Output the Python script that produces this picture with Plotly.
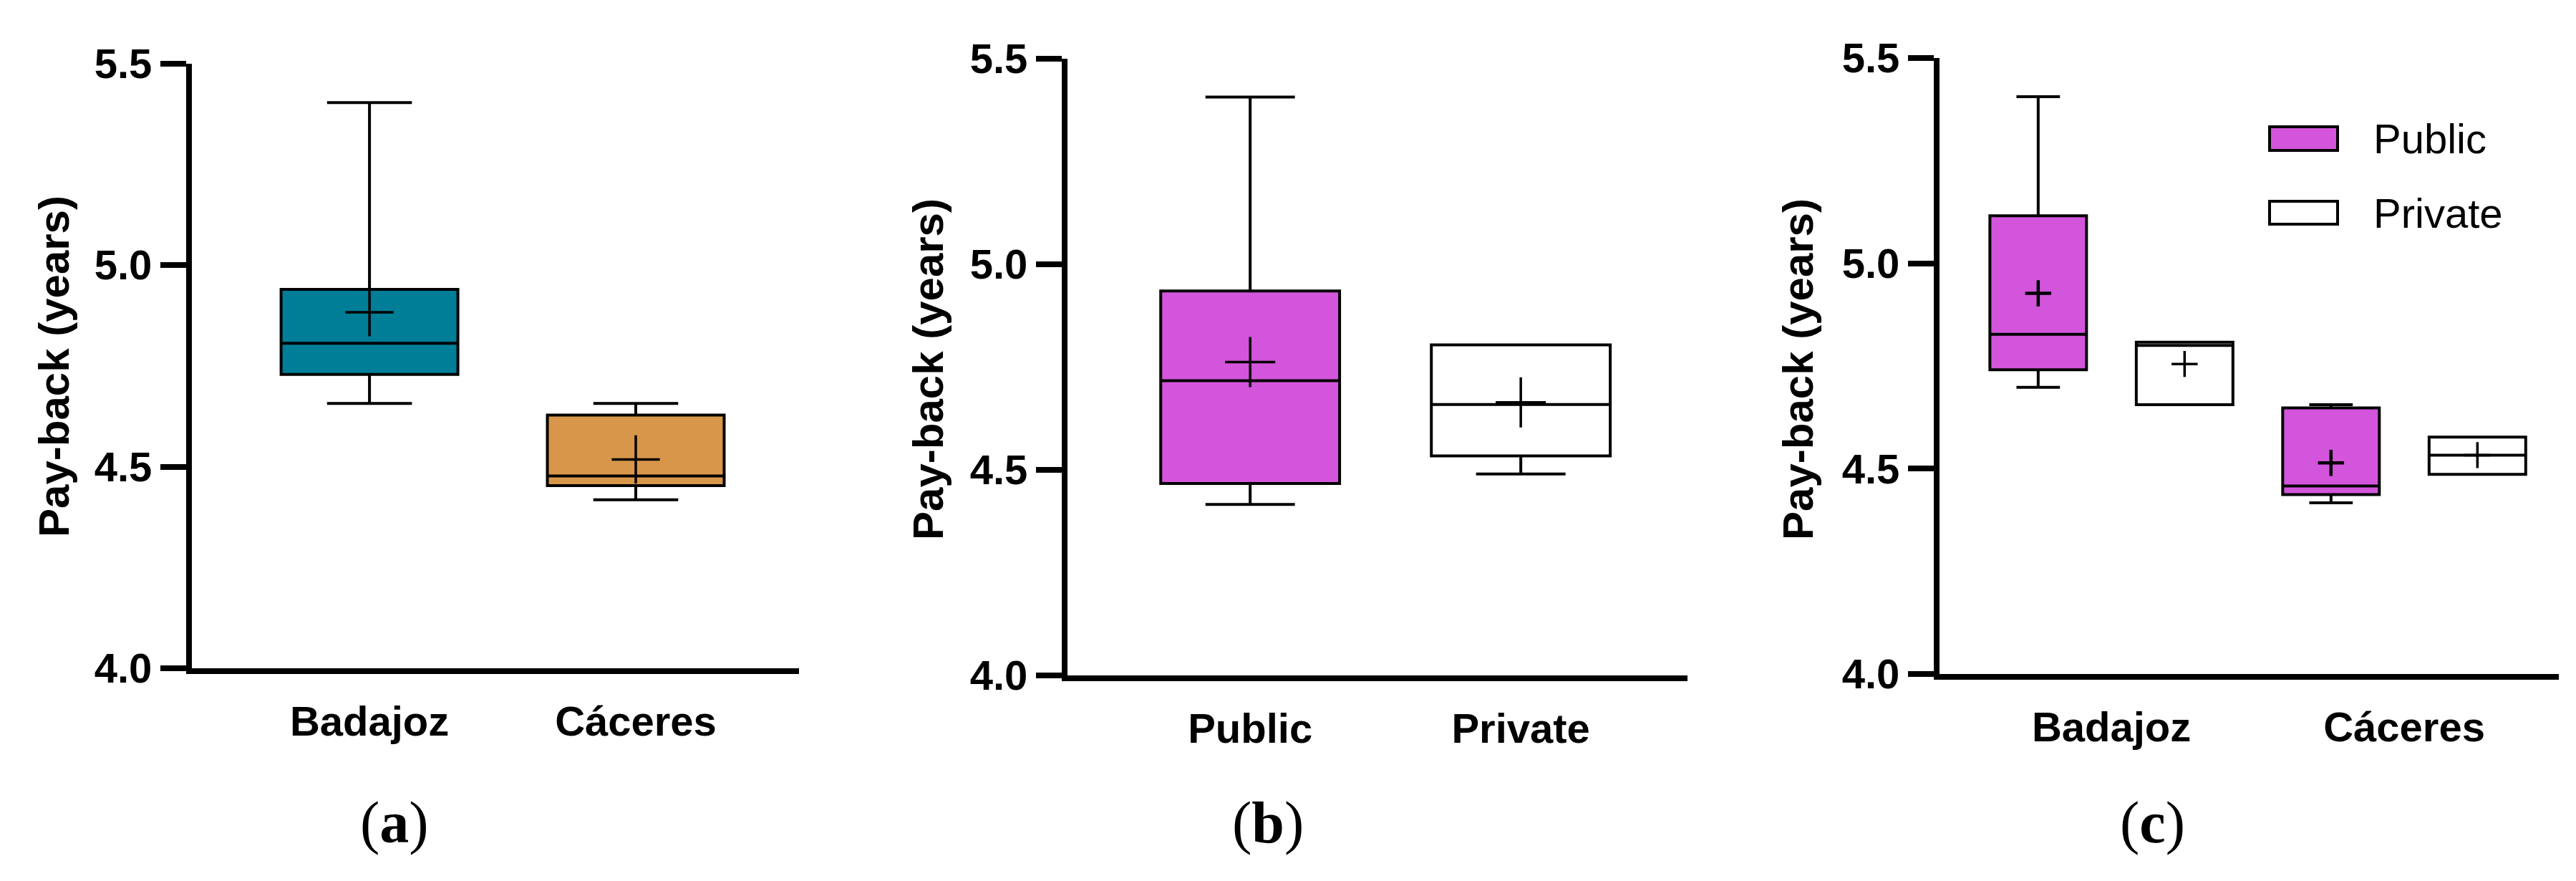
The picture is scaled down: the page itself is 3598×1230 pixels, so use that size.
import plotly.graph_objects as go

W, H = 3598, 1230

# (a) pay-back by province
prov_names = ["Badajoz", "Cáceres"]
prov_low = [4.657, 4.418]
prov_q1 = [4.729, 4.453]
prov_med = [4.806, 4.477]
prov_q3 = [4.940, 4.628]
prov_high = [5.403, 4.657]
prov_mean = [4.883, 4.518]
prov_colors = ["#007E98", "#D8964A"]

# (b) pay-back by ownership
own_names = ["Public", "Private"]
own_low = [4.416, 4.490]
own_q1 = [4.467, 4.534]
own_med = [4.717, 4.659]
own_q3 = [4.935, 4.804]
own_high = [5.407, 4.804]
own_mean = [4.762, 4.664]
own_colors = ["#D355DB", "#FFFFFF"]

# (c) province x ownership
pub_low = [4.698, 4.417]
pub_q1 = [4.741, 4.437]
pub_med = [4.827, 4.458]
pub_q3 = [5.116, 4.648]
pub_high = [5.406, 4.656]
pub_mean = [4.927, 4.514]

priv_low = [4.656, 4.486]
priv_q1 = [4.656, 4.486]
priv_med = [4.800, 4.533]
priv_q3 = [4.808, 4.577]
priv_high = [4.808, 4.577]
priv_mean = [4.755, 4.533]

y_ticks = [4.0, 4.5, 5.0, 5.5]

fig = go.Figure()


def add_box(xref, yref, pos, lo, q1, med, q3, hi, color, width, whisk):
    fig.add_trace(go.Box(
        x=[pos], lowerfence=[lo], q1=[q1], median=[med], q3=[q3], upperfence=[hi],
        width=width, whiskerwidth=whisk, fillcolor=color,
        line=dict(color="black", width=4), boxpoints=False,
        xaxis=xref, yaxis=yref, showlegend=False,
    ))


def add_means(xref, yref, xs, ys, size, lw):
    fig.add_trace(go.Scatter(
        x=xs, y=ys, mode="markers", xaxis=xref, yaxis=yref, showlegend=False,
        marker=dict(symbol="cross-thin", size=size, line=dict(color="black", width=lw)),
    ))


# panel (a)
for i in range(len(prov_names)):
    add_box("x", "y", i, prov_low[i], prov_q1[i], prov_med[i], prov_q3[i], prov_high[i],
            prov_colors[i], 0.664, 0.48)
add_means("x", "y", list(range(len(prov_names))), prov_mean, 48, 3.5)

# panel (b)
for i in range(len(own_names)):
    add_box("x2", "y2", i, own_low[i], own_q1[i], own_med[i], own_q3[i], own_high[i],
            own_colors[i], 0.661, 0.5)
add_means("x2", "y2", list(range(len(own_names))), own_mean, 50, 3.5)

# panel (c): public on the left of each province, private on the right
shift = 0.25
for i in range(len(prov_names)):
    add_box("x3", "y3", i - shift, pub_low[i], pub_q1[i], pub_med[i], pub_q3[i], pub_high[i],
            own_colors[0], 0.33, 0.45)
    add_box("x3", "y3", i + shift, priv_low[i], priv_q1[i], priv_med[i], priv_q3[i], priv_high[i],
            own_colors[1], 0.33, 0.45)
add_means("x3", "y3", [i - shift for i in range(2)], pub_mean, 26, 4.5)
add_means("x3", "y3", [i + shift for i in range(2)], priv_mean, 26, 3.5)

xcommon = dict(showline=True, linewidth=8, linecolor="black", ticks="", showgrid=False,
               zeroline=False, automargin=False, ticklabelstandoff=16,
               tickfont=dict(family="Liberation Sans", size=58, color="black", weight="bold"))
ycommon = dict(showline=True, linewidth=8, linecolor="black", ticks="outside", ticklen=36,
               tickwidth=8, tickcolor="black", showgrid=False, zeroline=False, automargin=False,
               range=[4.0, 5.5], tickvals=y_ticks, tickformat=".1f",
               tickfont=dict(family="Liberation Sans", size=58, color="black", weight="bold"))

HALF_LW = 4  # plotly draws axis lines half a line width outside the plot area


def px_dom(a, b):
    return [(a + HALF_LW) / W, b / W]


def py_dom(top, bottom):
    return [1 - (bottom - HALF_LW) / H, 1 - top / H]


fig.update_layout(
    width=W, height=H, margin=dict(l=0, r=0, t=0, b=0, pad=0),
    paper_bgcolor="white", plot_bgcolor="white",
    xaxis=dict(xcommon, domain=px_dom(256, 1108), range=[-0.667, 1.613], anchor="y",
               tickvals=[0, 1], ticktext=prov_names),
    yaxis=dict(ycommon, domain=py_dom(80.7, 929), anchor="x"),
    xaxis2=dict(xcommon, domain=px_dom(1479, 2349), range=[-0.675, 1.616], anchor="y2",
                tickvals=[0, 1], ticktext=own_names),
    yaxis2=dict(ycommon, domain=py_dom(74, 939), anchor="x2"),
    xaxis3=dict(xcommon, domain=px_dom(2697, 3566), range=[-0.587, 1.528], anchor="y3",
                tickvals=[0, 1], ticktext=prov_names),
    yaxis3=dict(ycommon, domain=py_dom(73, 937), anchor="x3"),
)

# y-axis titles
for xc, yc in [(68, 504), (1288, 508), (2503, 508)]:
    fig.add_annotation(x=xc / W, y=1 - yc / H, xref="paper", yref="paper",
                       text="<b>Pay-back (years)</b>", textangle=-90, showarrow=False,
                       xanchor="center", yanchor="middle",
                       font=dict(family="Liberation Sans", size=60, color="black"))

# panel letters
for letter, xc in [("a", 543), ("b", 1763), ("c", 2998)]:
    fig.add_annotation(x=xc / W, y=1 - 1140 / H, xref="paper", yref="paper",
                       text=f"(<b>{letter}</b>)", showarrow=False,
                       xanchor="center", yanchor="middle",
                       font=dict(family="Liberation Serif", size=82, color="black"))

# legend for panel (c)
for name, color, top, bottom in [("Public", own_colors[0], 169, 202),
                                 ("Private", own_colors[1], 273, 305)]:
    fig.add_shape(type="rect", xref="paper", yref="paper",
                  x0=3162 / W, x1=3257 / W, y0=1 - bottom / H, y1=1 - top / H,
                  fillcolor=color, line=dict(color="black", width=4))
    fig.add_annotation(x=3305 / W, y=1 - (top + bottom) / 2 / H, xref="paper", yref="paper",
                       text=name, showarrow=False, xanchor="left", yanchor="middle",
                       font=dict(family="Liberation Sans", size=58, color="black"))

fig.write_html("out.html")
